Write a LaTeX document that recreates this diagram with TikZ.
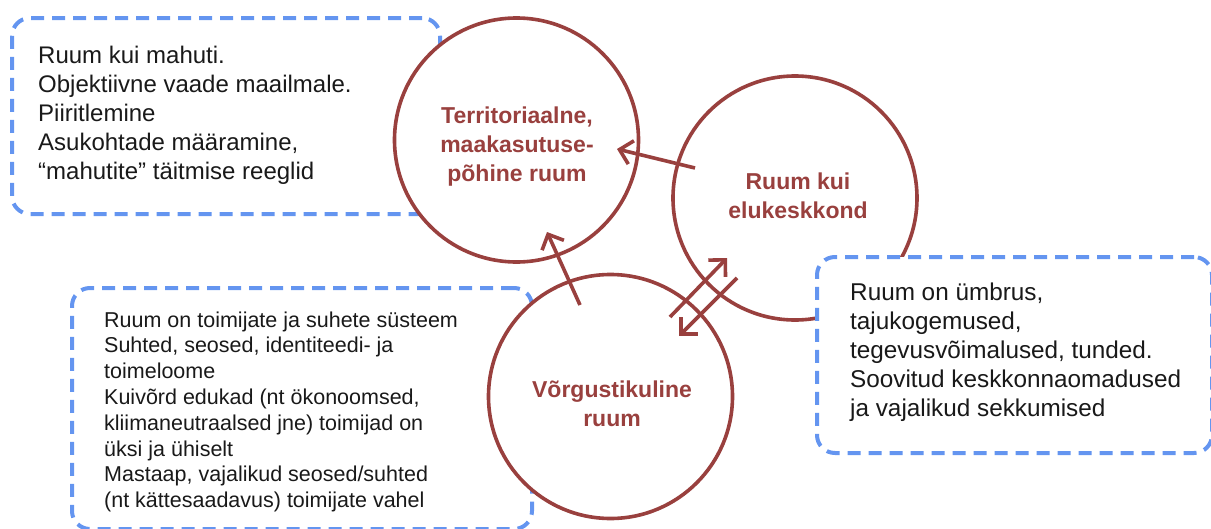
\documentclass[tikz,border=0pt]{standalone}
\usepackage{fontspec}
\setmainfont{Liberation Sans}
\usetikzlibrary{arrows.meta}
\definecolor{cred}{RGB}{153,64,62}
\definecolor{cblue}{RGB}{100,149,240}
\definecolor{ctxt}{RGB}{25,25,25}
\newcommand{\bxl}[1]{\hbox{#1}}
\begin{document}
\begin{tikzpicture}[x=1pt,y=-1pt,
  circ/.style={circle, draw=cred, fill=white, line width=3.6pt, inner sep=0pt, minimum size=244pt},
  ctext/.style={text=cred, font=\bfseries\fontsize{23}{29}\selectfont, align=center, inner sep=0pt},
  dbox/.style={draw=cblue, line width=4pt, dash pattern=on 13pt off 8pt, rounded corners=18pt, inner sep=0pt, anchor=north west},
  btext/.style={text=ctxt, anchor=base west, inner sep=0pt},
  arr/.style={draw=cred, line width=3.6pt, -{Straight Barb[length=12pt,width=24pt]}}
]
\useasboundingbox (0,0) rectangle (1211,528);
% boxes behind circles
\node[dbox, minimum width=428pt, minimum height=196pt] (b1) at (10,16) {};
\node[dbox, minimum width=460pt, minimum height=241pt] (b2) at (70,286) {};
% circles
\node[circ] (c1) at (516.5,140) {};
\node[circ] (c2) at (795,198) {};
\node[circ] (c3) at (610.5,396.5) {};
% box in front of circle 2
\node[dbox, fill=white, minimum width=395pt, minimum height=196pt] (b3) at (815,255) {};
% circle labels
\node[ctext] (t1) at (517,147) {Territoriaalne,\\maakasutuse-\\põhine ruum};
\node[ctext] (t2) at (798,196) {Ruum kui\\elukeskkond};
\node[ctext] (t3) at (612,404) {Võrgustikuline\\ruum};
% box texts
\node[btext] (x1) at (38,63) {\vtop{\fontsize{24}{29}\selectfont
  \bxl{Ruum kui mahuti.}\bxl{Objektiivne vaade maailmale.}\bxl{Piiritlemine}\bxl{Asukohtade määramine,}\bxl{“mahutite” täitmise reeglid}}};
\node[btext] (x2) at (104,327) {\vtop{\fontsize{21.5}{25.8}\selectfont
  \bxl{Ruum on toimijate ja suhete süsteem}\bxl{Suhted, seosed, identiteedi- ja}\bxl{toimeloome}\bxl{Kuivõrd edukad (nt ökonoomsed,}\bxl{kliimaneutraalsed jne) toimijad on}\bxl{üksi ja ühiselt}\bxl{Mastaap, vajalikud seosed/suhted}\bxl{(nt kättesaadavus) toimijate vahel}}};
\node[btext] (x3) at (850,300) {\vtop{\fontsize{24.3}{29}\selectfont
  \bxl{Ruum on ümbrus,}\bxl{tajukogemused,}\bxl{tegevusvõimalused, tunded.}\bxl{Soovitud keskkonnaomadused}\bxl{ja vajalikud sekkumised}}};
% arrows
\coordinate (a1s) at (695,168);
\coordinate (a1e) at (617,149);
\coordinate (a2s) at (580,305);
\coordinate (a2e) at (547,232);
\coordinate (a3s) at (670,317);
\coordinate (a3e) at (727,258);
\coordinate (a4s) at (737,278);
\coordinate (a4e) at (679,336);
\draw[arr] (a1s) -- (a1e);
\draw[arr] (a2s) -- (a2e);
\draw[arr] (a3s) -- (a3e);
\draw[arr] (a4s) -- (a4e);
\end{tikzpicture}
\end{document}
